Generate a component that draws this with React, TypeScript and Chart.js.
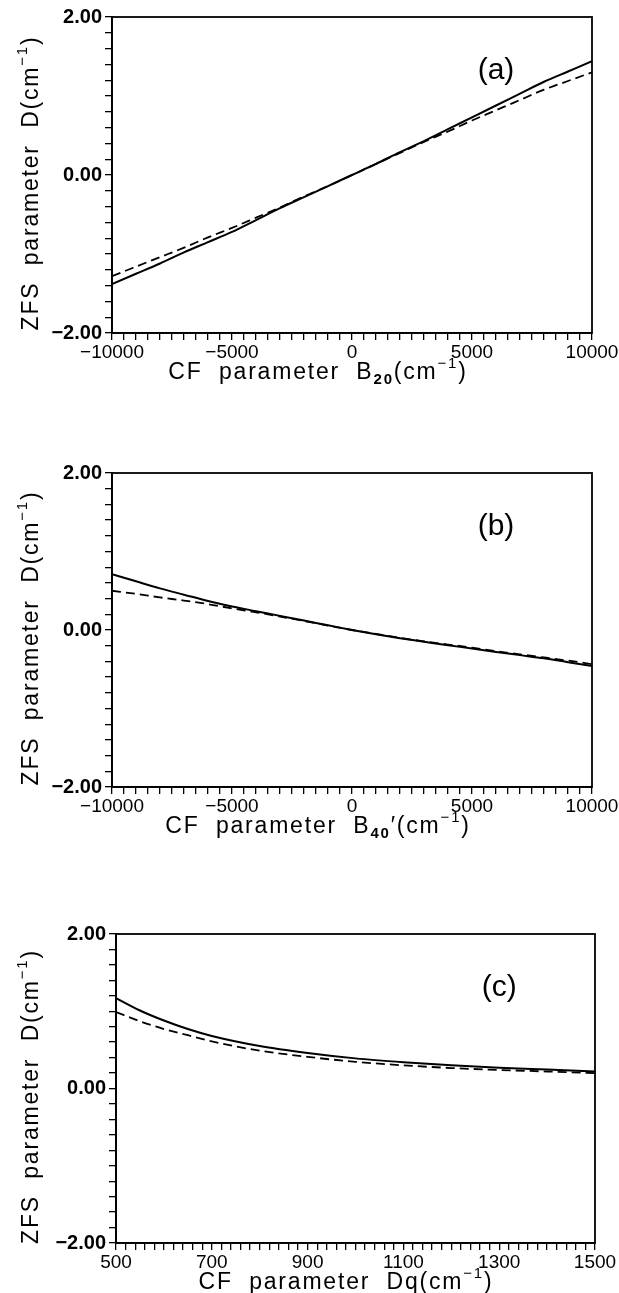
import React, { useEffect, useRef } from 'react';
import { Chart, registerables } from 'chart.js';
Chart.register(...registerables);

// ---------- data ----------
const B20_X = [-10000, -9000, -8000, -7000, -6000, -5000, -4000, -3000, -2000, -1000, 0, 1000, 2000, 3000, 4000, 5000, 6000, 7000, 8000, 9000, 10000];
const A_SOLID = [-1.38, -1.25, -1.12, -0.98, -0.85, -0.72, -0.57, -0.42, -0.28, -0.14, 0, 0.14, 0.29, 0.43, 0.58, 0.73, 0.88, 1.03, 1.18, 1.31, 1.44];
const A_DASHED = [-1.28, -1.16, -1.04, -0.92, -0.79, -0.67, -0.54, -0.41, -0.27, -0.14, 0, 0.14, 0.28, 0.42, 0.55, 0.69, 0.82, 0.95, 1.08, 1.19, 1.30];

const B40_X = [-10000, -9000, -8000, -7000, -6000, -5000, -4000, -3000, -2000, -1000, 0, 1000, 2000, 3000, 4000, 5000, 6000, 7000, 8000, 9000, 10000];
const B_SOLID = [0.71, 0.62, 0.53, 0.45, 0.37, 0.30, 0.24, 0.18, 0.12, 0.06, 0, -0.055, -0.105, -0.15, -0.195, -0.235, -0.28, -0.32, -0.36, -0.41, -0.46];
const B_DASHED = [0.50, 0.46, 0.415, 0.375, 0.33, 0.275, 0.225, 0.172, 0.115, 0.057, 0, -0.05, -0.10, -0.145, -0.185, -0.225, -0.27, -0.31, -0.35, -0.39, -0.435];

const DQ_X = [500, 550, 600, 650, 700, 800, 900, 1000, 1100, 1200, 1300, 1400, 1500];
const C_SOLID = [1.17, 1.01, 0.88, 0.77, 0.68, 0.55, 0.46, 0.39, 0.34, 0.30, 0.27, 0.245, 0.22];
const C_DASHED = [0.99, 0.87, 0.77, 0.69, 0.61, 0.49, 0.41, 0.345, 0.30, 0.265, 0.24, 0.22, 0.20];

const Y_TICK_VALUES = [-2, 0, 2];
const Y_TICK_LABELS = ['\u22122.00', '0.00', '2.00'];
const AB_X_TICK_VALUES = [-10000, -5000, 0, 5000, 10000];
const AB_X_TICK_LABELS = ['\u221210000', '\u22125000', '0', '5000', '10000'];
const C_X_TICK_VALUES = [500, 700, 900, 1100, 1300, 1500];
const C_X_TICK_LABELS = ['500', '700', '900', '1100', '1300', '1500'];

type Seg = { t: string; k?: 'sub' | 'sup' };
const Y_TITLE: Seg[] = [{ t: 'ZFS  parameter  D(cm' }, { t: '\u22121', k: 'sup' }, { t: ')' }];
const X_TITLE_A: Seg[] = [{ t: 'CF  parameter  B' }, { t: '20', k: 'sub' }, { t: '(cm' }, { t: '\u22121', k: 'sup' }, { t: ')' }];
const X_TITLE_B: Seg[] = [{ t: 'CF  parameter  B' }, { t: '40', k: 'sub' }, { t: '\u2032(cm' }, { t: '\u22121', k: 'sup' }, { t: ')' }];
const X_TITLE_C: Seg[] = [{ t: 'CF  parameter  Dq(cm' }, { t: '\u22121', k: 'sup' }, { t: ')' }];

const FONT = '"Liberation Sans", Arial, sans-serif';

function drawRich(ctx: CanvasRenderingContext2D, segs: Seg[], cx: number, by: number) {
  const fontFor = (s: Seg) => (s.k === 'sub' ? `bold 15px ${FONT}` : `${s.k ? 15 : 23}px ${FONT}`);
  (ctx as any).letterSpacing = '1.8px';
  let w = 0;
  for (const s of segs) { ctx.font = fontFor(s); w += ctx.measureText(s.t).width; }
  let x = cx - w / 2;
  ctx.textAlign = 'left';
  ctx.textBaseline = 'alphabetic';
  for (const s of segs) {
    ctx.font = fontFor(s);
    const dy = s.k === 'sub' ? 5 : s.k === 'sup' ? -11 : 0;
    ctx.fillText(s.t, x, by + dy);
    x += ctx.measureText(s.t).width;
  }
}

const decoPlugin = {
  id: 'deco',
  afterDraw(chart: any, _args: any, opts: any) {
    const { ctx, chartArea: a } = chart;
    ctx.save();
    ctx.strokeStyle = '#000';
    ctx.lineWidth = 1.8;
    ctx.strokeRect(a.left, a.top, a.right - a.left, a.bottom - a.top);
    ctx.fillStyle = '#000';
    ctx.font = `30px ${FONT}`;
    ctx.textAlign = 'center';
    ctx.textBaseline = 'middle';
    ctx.fillText(opts.tag, a.left + opts.tagFx * (a.right - a.left), a.top + opts.tagDy);
    drawRich(ctx, opts.xTitle, opts.xTitleX, a.bottom + 46);
    ctx.translate(opts.yTitleX, (a.top + a.bottom) / 2 + 8);
    ctx.rotate(-Math.PI / 2);
    drawRich(ctx, opts.yTitle, 0, 0);
    ctx.restore();
  },
};

type Panel = {
  canvasTop: number; top: number; bottom: number; left: number; right: number;
  xs: number[]; solid: number[]; dashed: number[];
  xmin: number; xmax: number; xstep: number; xTickValues: number[]; xTickLabels: string[];
  tag: string; xTitle: Seg[]; xTitleX: number;
};

const PANELS: Panel[] = [
  { canvasTop: 0, top: 17, bottom: 333, left: 112, right: 592, xs: B20_X, solid: A_SOLID, dashed: A_DASHED,
    xmin: -10000, xmax: 10000, xstep: 500, xTickValues: AB_X_TICK_VALUES, xTickLabels: AB_X_TICK_LABELS,
    tag: '(a)', xTitle: X_TITLE_A, xTitleX: 318 },
  { canvasTop: 440, top: 473, bottom: 787, left: 112, right: 592, xs: B40_X, solid: B_SOLID, dashed: B_DASHED,
    xmin: -10000, xmax: 10000, xstep: 500, xTickValues: AB_X_TICK_VALUES, xTickLabels: AB_X_TICK_LABELS,
    tag: '(b)', xTitle: X_TITLE_B, xTitleX: 318 },
  { canvasTop: 890, top: 934, bottom: 1243, left: 116, right: 595, xs: DQ_X, solid: C_SOLID, dashed: C_DASHED,
    xmin: 500, xmax: 1500, xstep: 20, xTickValues: C_X_TICK_VALUES, xTickLabels: C_X_TICK_LABELS,
    tag: '(c)', xTitle: X_TITLE_C, xTitleX: 346 },
];

const canvasHeight = (p: Panel) => p.bottom - p.canvasTop + 60;

function makeConfig(p: Panel): any {
  const xAxisH = canvasHeight(p) - (p.bottom - p.canvasTop);
  const pts = (ys: number[]) => p.xs.map((x, i) => ({ x, y: ys[i] }));
  return {
    type: 'line',
    data: {
      datasets: [
        { data: pts(p.solid), borderColor: '#000', borderWidth: 2, pointRadius: 0, cubicInterpolationMode: 'monotone', fill: false },
        { data: pts(p.dashed), borderColor: '#000', borderWidth: 1.8, borderDash: [9, 5], pointRadius: 0, cubicInterpolationMode: 'monotone', fill: false },
      ],
    },
    options: {
      animation: false,
      responsive: false,
      devicePixelRatio: 1,
      layout: { padding: { top: p.top - p.canvasTop, right: 619 - p.right, left: 0, bottom: 0 } },
      plugins: {
        legend: { display: false },
        tooltip: { enabled: false },
        deco: { tag: p.tag, tagFx: 0.8, tagDy: 54, xTitle: p.xTitle, xTitleX: p.xTitleX, yTitle: Y_TITLE, yTitleX: 38 },
      },
      scales: {
        x: {
          type: 'linear', min: p.xmin, max: p.xmax,
          border: { display: true, color: '#000', width: 1.8 },
          grid: { display: true, drawOnChartArea: false, drawTicks: true, tickLength: 7, color: '#000', lineWidth: 1.3 },
          ticks: {
            stepSize: p.xstep, autoSkip: false, maxRotation: 0, padding: 1, color: '#000',
            font: { family: FONT, size: 19 },
            callback: (v: number) => { const i = p.xTickValues.findIndex((t) => Math.abs(t - v) < 1e-6); return i >= 0 ? p.xTickLabels[i] : ''; },
          },
          afterFit: (s: any) => { s.height = xAxisH; s.paddingLeft = 0; s.paddingRight = 0; },
        },
        y: {
          type: 'linear', min: -2, max: 2,
          border: { display: true, color: '#000', width: 1.8 },
          grid: { display: true, drawOnChartArea: false, drawTicks: true, tickLength: 7, color: '#000', lineWidth: 1.3 },
          ticks: {
            stepSize: 0.2, autoSkip: false, padding: 3, color: '#000',
            font: { family: FONT, size: 20, weight: 'bold' },
            callback: (v: number) => { const i = Y_TICK_VALUES.findIndex((t) => Math.abs(t - v) < 1e-6); return i >= 0 ? Y_TICK_LABELS[i] : ''; },
          },
          afterFit: (s: any) => { s.width = p.left; s.paddingTop = 0; s.paddingBottom = 0; },
        },
      },
    },
    plugins: [decoPlugin],
  };
}

export default function App() {
  const r0 = useRef<HTMLCanvasElement>(null);
  const r1 = useRef<HTMLCanvasElement>(null);
  const r2 = useRef<HTMLCanvasElement>(null);
  const refs = [r0, r1, r2];
  useEffect(() => {
    const charts = PANELS.map((p, i) => new Chart(refs[i].current as HTMLCanvasElement, makeConfig(p)));
    return () => charts.forEach((c) => c.destroy());
  }, []);
  return (
    <div style={{ position: 'absolute', left: 0, top: 0, width: 619, height: 1293, overflow: 'hidden', background: '#fff' }}>
      {PANELS.map((p, i) => (
        <canvas key={i} ref={refs[i]} width={619} height={canvasHeight(p)}
          style={{ position: 'absolute', left: 0, top: p.canvasTop, width: 619, height: canvasHeight(p) }} />
      ))}
    </div>
  );
}
